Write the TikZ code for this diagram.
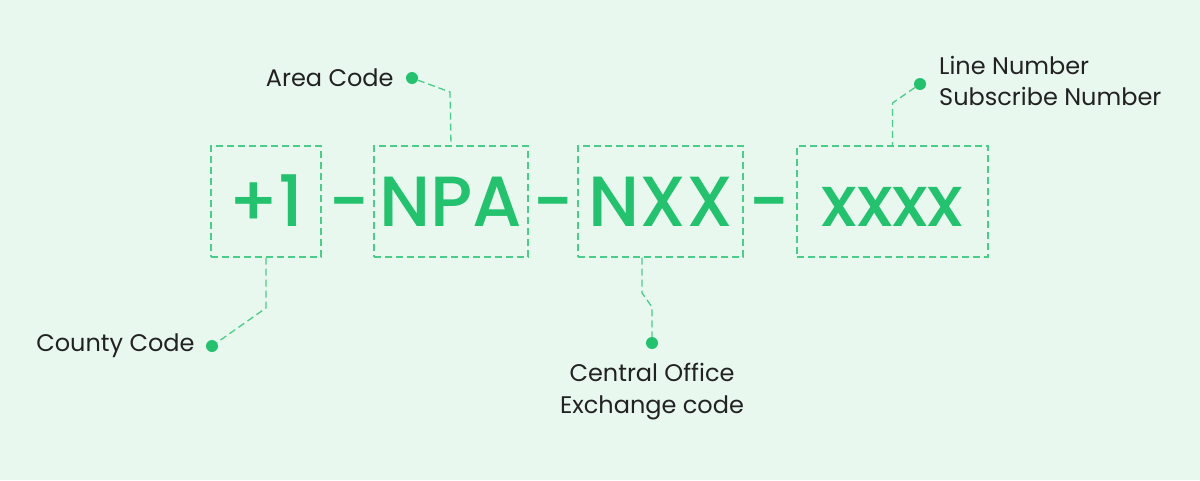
\documentclass[tikz,border=0pt]{standalone}
\usepackage{fontspec}
\setmainfont{Poppins}
\newfontfamily\popmed{Poppins Medium}
\usepackage{xcolor}
\usepackage{tikz}
\usetikzlibrary{positioning}

\definecolor{mint}{HTML}{E8F8EF}
\definecolor{leaf}{HTML}{24C16E}
\definecolor{ink}{HTML}{222222}

\tikzset{
  digitbox/.style={draw=leaf!80!mint, line width=1.3pt, dash pattern=on 7pt off 4pt,
    text=leaf, font=\popmed\fontsize{71}{80}\selectfont, inner sep=0pt,
    minimum height=111pt, text height=50pt, text depth=0pt},
  joiner/.style={text=leaf, font=\popmed\fontsize{71}{80}\selectfont, inner sep=0pt,
    text height=50pt, text depth=0pt},
  lead/.style={draw=leaf!80!mint, line width=1.3pt, dash pattern=on 7pt off 4pt},
  pindot/.style={circle, fill=leaf, inner sep=0pt, minimum size=12pt},
  tag/.style={text=ink, font=\fontsize{24}{31.5}\selectfont, inner sep=0pt},
}

\begin{document}
\begin{tikzpicture}[x=1pt, y=-1pt]
  \fill[mint] (0,0) rectangle (1200,480);
  \useasboundingbox (0,0) rectangle (1200,480);

  % the four parts of the number
  \foreach \cx/\w/\txt/\nm in {266/110/+1/cc, 451/154/NPA/npa, 660.5/165/NXX/nxx, 892.5/191/xxxx/sub} {
    \node[digitbox, minimum width=\w pt] (\nm) at (\cx,201.5) {\txt};
  }
  \foreach \cx [count=\n] in {349, 553, 769} {
    \node[joiner] (dash\n) at (\cx,201.5) {-};
  }

  % area code
  \node[pindot] (acdot) at (412,78) {};
  \node[tag, left=12pt of acdot] (aclbl) {Area Code};
  \draw[lead] (acdot) -- (450,92) -- (npa.north);

  % line number
  \node[pindot] (lndot) at (920,84) {};
  \node[tag, align=left, anchor=west] (lnlbl) at (939,81) {Line Number\\Subscribe Number};
  \draw[lead] (lndot) -- (892.5,103) -- (sub.north);

  % county code
  \node[pindot] (ccdot) at (212,346) {};
  \node[tag, left=11pt of ccdot] (cclbl) {County Code};
  \draw[lead] (cc.south) -- (266,308) -- (ccdot);

  % central office
  \node[pindot] (codot) at (652,343) {};
  \node[tag, align=center, below=14pt of codot] (colbl) {Central Office\\Exchange code};
  \draw[lead] ([xshift=-18.5pt]nxx.south) -- (642,293) -- (652,307) -- (codot);
\end{tikzpicture}
\end{document}
